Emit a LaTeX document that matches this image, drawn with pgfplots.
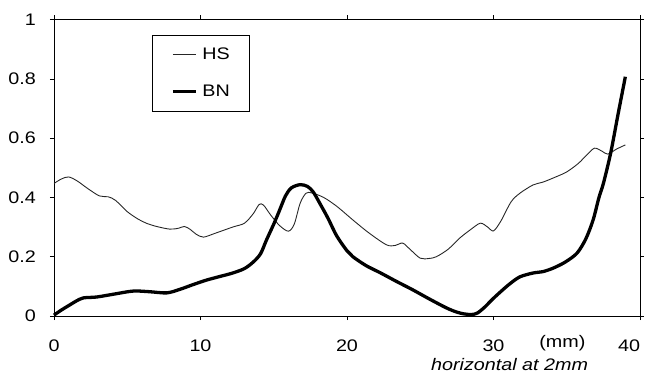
\documentclass[border=0pt]{standalone}
\usepackage{pgfplots}
\pgfplotsset{compat=1.18}
\usepackage{fontspec}
\setmainfont{Liberation Sans}[FakeStretch=1.18]
\newcommand\chfont{\fontsize{16.8}{20}\selectfont}
\begin{document}
\begin{tikzpicture}
\begin{axis}[
  scale only axis,
  width=586bp, height=296.5bp,
  xmin=0, xmax=40, ymin=0, ymax=1,
  xtick={0,10,20,30,40},
  ytick={0,0.2,0.4,0.6,0.8,1},
  yticklabels={0,0.2,0.4,0.6,0.8,1},
  xticklabels={0,10,20,30,\makebox[0pt][r]{40}},
  tick align=outside,
  major tick length=4bp,
  tick style={black, line width=0.6pt},
  axis line style={black, line width=0.7pt},
  /pgf/number format/assume math mode=true,
  every tick label/.append style={font=\chfont},
  xticklabel style={anchor=base, yshift=-31bp},
  yticklabel style={anchor=east, inner sep=0pt, xshift=-14bp},
  clip=false,
  legend style={at={(rel axis cs:0.167,0.948)}, anchor=north west,
    draw=black, line width=0.5pt, font=\chfont,
    nodes={inner sep=0pt}, column sep=5bp,
    inner xsep=19bp, inner ysep=13bp, row sep=24bp},
  legend cell align=left,
  legend image code/.code={\draw[#1] (0bp,0bp) -- (23bp,0bp);},
]
\addplot[smooth, line width=0.9pt, color=black!85] coordinates {
(0,0.447) (0.5,0.462) (1.0,0.469) (1.6,0.455) (2.3,0.43) (3.1,0.405) (3.7,0.402) (4.2,0.39)
(5.0,0.352) (5.7,0.328) (6.3,0.313) (7.0,0.302) (7.9,0.293) (8.5,0.296) (8.9,0.302) (9.3,0.292)
(9.7,0.276) (10.2,0.266) (11.0,0.279) (12.2,0.300) (13.0,0.313) (13.6,0.345) (14.0,0.376) (14.3,0.374)
(14.8,0.340) (15.4,0.305) (16.0,0.286) (16.4,0.31) (16.8,0.38) (17.2,0.414) (17.6,0.415) (18.4,0.40)
(19.3,0.37) (20.4,0.324) (21.5,0.28) (22.7,0.24) (23.3,0.238) (23.8,0.246) (24.3,0.225) (25.0,0.195)
(25.6,0.194) (26.1,0.2) (26.9,0.225) (27.7,0.263) (28.4,0.29) (29.1,0.313) (29.6,0.300) (30.0,0.287)
(30.5,0.32) (31.2,0.385) (31.8,0.414) (32.7,0.442) (33.4,0.452) (34.2,0.468) (35.0,0.486) (35.8,0.515)
(36.4,0.545) (36.9,0.566) (37.4,0.556) (37.8,0.546) (38.4,0.563) (39.0,0.577)
};
\addlegendentry{HS}
\addplot[smooth, line width=3.3pt, color=black] coordinates {
(0,0.003) (0.5,0.02) (1.0,0.035) (1.5,0.05) (2.0,0.061) (2.9,0.064) (4.0,0.073) (5.4,0.084)
(6.5,0.082) (7.7,0.078) (8.6,0.09) (9.5,0.106) (10.4,0.121) (11.3,0.133) (12.2,0.145) (13.0,0.16)
(13.6,0.182) (14.1,0.21) (14.5,0.256) (15.0,0.31) (15.4,0.357) (15.8,0.405) (16.2,0.432) (16.8,0.443)
(17.3,0.437) (17.7,0.418) (18.2,0.375) (18.7,0.33) (19.3,0.27) (20.0,0.22) (20.4,0.2) (21.3,0.17)
(22.3,0.145) (23.4,0.116) (24.5,0.088) (25.6,0.058) (26.8,0.027) (27.5,0.013) (28.0,0.007) (28.5,0.005)
(28.9,0.01) (29.4,0.03) (29.9,0.055) (30.4,0.078) (31.1,0.108) (31.8,0.132) (32.7,0.145) (33.4,0.15)
(34.1,0.162) (34.9,0.182) (35.7,0.212) (36.3,0.26) (36.8,0.324) (37.2,0.40) (37.5,0.447) (38.0,0.55)
(38.5,0.68) (39.0,0.807)
};
\addlegendentry{BN}
\node[anchor=base, font=\chfont] at ([yshift=-31bp]axis cs:34.7,0) {(mm)};
\node[anchor=base, font=\chfont\itshape] at ([yshift=-54bp]axis cs:31.1,0) {horizontal at 2mm};
\end{axis}
\path (current axis.south west) ++(-54bp,-58bp) (current axis.north east) ++(9bp,19.5bp);
\end{tikzpicture}
\end{document}
